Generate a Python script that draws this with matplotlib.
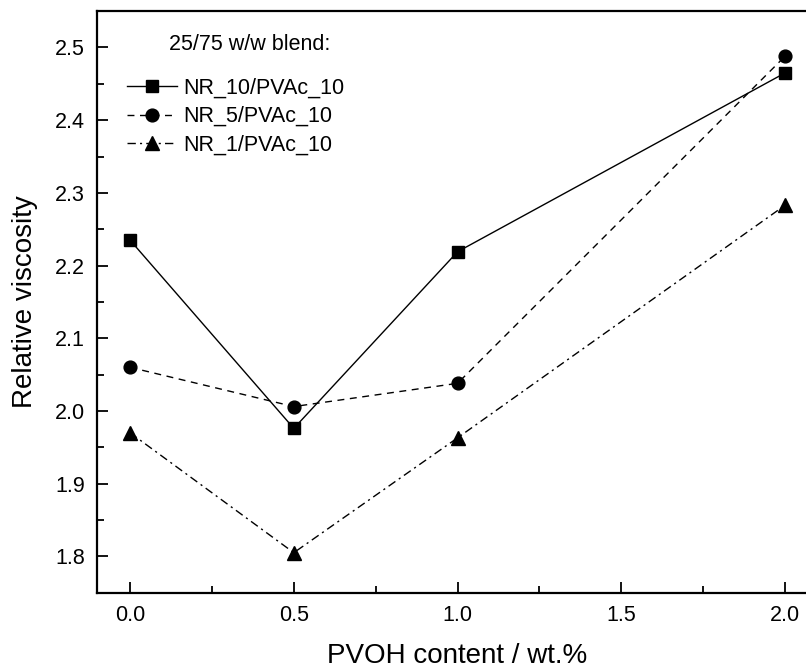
import matplotlib
matplotlib.use('Agg')
import matplotlib.pyplot as plt

plt.rcParams['font.family'] = ['Liberation Sans', 'DejaVu Sans']

# data
pvoh = [0.0, 0.5, 1.0, 2.0]
nr10 = [2.235, 1.976, 2.219, 2.465]
nr5 = [2.060, 2.006, 2.038, 2.488]
nr1 = [1.970, 1.805, 1.963, 2.283]
labels = ['NR_10/PVAc_10', 'NR_5/PVAc_10', 'NR_1/PVAc_10']

fig = plt.figure(figsize=(8.06, 6.70), dpi=100)
# right spine sits just outside the picture, as in the reference
ax = fig.add_axes([0.1207, 0.1154, 0.894, 0.868])

ax.plot(pvoh, nr10, color='black', lw=1.0, ls='-', marker='s', ms=8.5, label=labels[0])
ax.plot(pvoh, nr5, color='black', lw=1.0, ls=(0, (5, 4)), marker='o', ms=9.2, label=labels[1])
ax.plot(pvoh, nr1, color='black', lw=1.0, ls=(0, (6, 3, 1.5, 3)), marker='^', ms=10.5, label=labels[2])

ax.set_xlim(-0.1, 2.1)
ax.set_ylim(1.75, 2.55)
ax.set_xticks([0.0, 0.5, 1.0, 1.5, 2.0])
ax.set_yticks([1.8, 1.9, 2.0, 2.1, 2.2, 2.3, 2.4, 2.5])
ax.set_xticks([0.25, 0.75, 1.25, 1.75], minor=True)
ax.set_yticks([1.85, 1.95, 2.05, 2.15, 2.25, 2.35, 2.45], minor=True)
ax.xaxis.set_major_formatter(plt.FormatStrFormatter('%.1f'))
ax.yaxis.set_major_formatter(plt.FormatStrFormatter('%.1f'))

ax.tick_params(which='major', direction='in', length=8, width=1.3, labelsize=15.5)
ax.tick_params(axis='x', which='major', pad=9)
ax.tick_params(axis='y', which='major', pad=9)
ax.tick_params(which='minor', direction='in', length=5, width=1.3)
for s in ax.spines.values():
    s.set_linewidth(1.6)

ax.set_xlabel('PVOH content / wt.%', fontsize=20, labelpad=12)
ax.set_ylabel('Relative viscosity', fontsize=20, labelpad=12)

ax.text(0.0995, 0.943, '25/75 w/w blend:', transform=ax.transAxes, fontsize=15.5,
        ha='left', va='center')
ax.legend(loc='upper left', bbox_to_anchor=(0.041, 0.885), frameon=False,
          fontsize=15.5, handlelength=2.35, handletextpad=0.28, labelspacing=0.33,
          borderaxespad=0, borderpad=0)

fig.savefig('out.png', dpi=100)
